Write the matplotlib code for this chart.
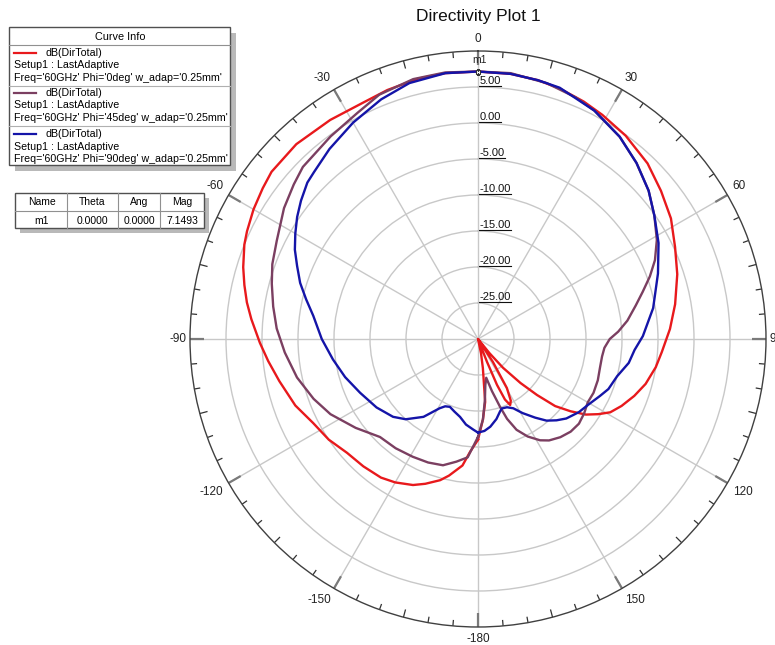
import numpy as np
import matplotlib
matplotlib.use("Agg")
import matplotlib.pyplot as plt
from matplotlib.patches import Rectangle
from matplotlib.lines import Line2D
from matplotlib.transforms import offset_copy

plt.rcParams["font.family"] = ["Liberation Sans", "DejaVu Sans"]

W, H = 775, 645

# ----------------------------------------------------------
# Data (theta in deg, directivity in dB)
# ----------------------------------------------------------
RED_THETA = [-180, -176, -173, -168, -165, -160, -156, -150, -145, -138,
             -131, -124, -117, -110, -102, -96, -91, -85, -81, -77,
             -73, -68, -65, -60, -55, -51, -43, -34, -26, -20,
             -13, -7, 0, 7, 13, 18, 24, 29, 36, 44,
             51, 58, 65, 72, 80, 87, 94, 99, 105, 110,
             115, 119, 122, 125, 128, 131, 133.5, 136, 139, 141,
             143, 145, 147, 149.5, 152, 154, 156, 157.5, 158.5, 160,
             162, 166, 168, 170.5, 173.5, 176.5, 180]
RED_DB = [-16.0, -14.3, -12.3, -10.6, -9.7, -8.6, -7.8, -7.0, -6.5, -6.2,
          -5.9, -5.0, -4.3, -3.0, -1.8, -0.7, 0.3, 1.6, 2.5, 3.3,
          4.1, 5.0, 5.4, 6.0, 6.5, 6.9, 7.0, 6.7, 6.5, 6.8,
          7.1, 7.2, 7.15, 7.1, 6.9, 6.6, 6.1, 5.6, 4.9, 3.9,
          2.7, 1.6, 0.2, -0.9, -2.2, -3.3, -4.4, -5.0, -5.9, -6.9,
          -8.0, -9.0, -10.3, -11.7, -13.7, -15.8, -18.7, -21.5, -24.7, -27.5,
          -30.0, -30.0, -26.2, -22.1, -20.3, -19.8, -20.8, -23.1, -26.6, -30.0,
          -30.0, -30.0, -28.0, -25.9, -21.2, -18.8, -16.0]

PURPLE_THETA = [-180, -175, -170, -164.5, -158, -151, -143, -135, -126, -117,
                -110, -102, -94, -87, -81, -75, -70, -64, -56, -50,
                -45.5, -36, -28, -22, -14, -7, 0, 7, 15, 22,
                27, 35, 42, 49, 55, 61, 66, 70, 74, 78,
                83, 87, 90, 94, 98, 103, 109, 115, 120, 125,
                130, 135, 140, 145, 148.5, 153, 157, 160, 162, 165,
                168, 171, 173.5, 176.5, 180]
PURPLE_DB = [-16.4, -13.5, -12.7, -11.8, -11.5, -11.3, -11.0, -10.75, -9.0, -7.0,
             -5.7, -4.3, -3.1, -2.0, -1.2, -0.35, 0.4, 1.1, 2.5, 3.4,
             4.1, 4.8, 5.6, 6.6, 7.2, 7.3, 7.15, 7.2, 6.8, 6.2,
             5.6, 4.3, 2.9, 1.4, -0.1, -1.6, -3.1, -4.6, -6.2, -7.6,
             -9.1, -10.5, -11.7, -12.4, -12.6, -12.6, -12.4, -12.3, -12.4, -12.0,
             -11.7, -11.8, -12.2, -12.8, -13.5, -14.8, -16.3, -18.2, -20.1, -22.5,
             -24.5, -23.5, -21.5, -18.8, -16.4]

BLUE_THETA = [-180, -177, -172, -167, -162, -157.5, -154, -151, -145, -138,
              -132.5, -124, -114.5, -106, -98, -90, -82, -77, -72.5, -68,
              -64, -60, -56, -52, -47.5, -44.5, -38, -30, -22, -15,
              -7, 0, 7, 13, 18, 27, 35, 42, 49, 55,
              62, 70, 80, 89, 94, 99, 105, 111, 115, 121,
              126, 132, 136, 140, 144, 149, 153, 157, 161, 163,
              167, 172, 176, 180]
BLUE_DB = [-17.0, -17.4, -18.0, -18.9, -19.4, -19.8, -19.6, -19.0, -16.8, -15.0,
           -14.0, -13.0, -12.0, -10.8, -9.65, -8.3, -6.9, -5.5, -4.1, -2.9,
           -1.7, -0.7, 0.3, 1.2, 2.15, 2.5, 3.5, 4.7, 5.9, 6.8,
           7.2, 7.15, 7.1, 6.9, 6.7, 5.6, 4.3, 2.9, 1.4, -0.1,
           -1.6, -3.4, -5.3, -7.1, -8.2, -8.8, -10.0, -10.6, -11.3, -12.2,
           -12.7, -13.5, -14.3, -15.2, -16.5, -18.0, -19.2, -19.7, -19.8, -19.5,
           -18.6, -17.7, -17.2, -17.0]

CURVE_COLORS = ["#e8191c", "#7b3f61", "#1414a8"]
PHI_VALUES = ["0deg", "45deg", "90deg"]
CURVE_NAME = "dB(DirTotal)"
SETUP_NAME = "Setup1 : LastAdaptive"

RING_VALUES = [5, 0, -5, -10, -15, -20, -25]
R_MIN, R_MAX = -30, 10
THETA_LABEL_ANGLES = [0, 30, 60, 90, 120, 150, 180, 210, 240, 270, 300, 330]
THETA_LABELS = ["0", "30", "60", "90", "120", "150",
                "-180", "-150", "-120", "-90", "-60", "-30"]

MARKER_NAME = "m1"
MARKER_THETA = 0.0
MARKER_MAG = 7.1493
TABLE_HEADER = ["Name", "Theta", "Ang", "Mag"]
TABLE_ROW = ["m1", "0.0000", "0.0000", "7.1493"]


# ----------------------------------------------------------
# helpers working in reference pixel coordinates
# ----------------------------------------------------------
def px_rect(fig, x0, y0, x1, y1, **kw):
    r = Rectangle((x0 / W, 1 - y1 / H), (x1 - x0) / W, (y1 - y0) / H,
                  transform=fig.transFigure, **kw)
    fig.add_artist(r)


def px_line(fig, x0, y0, x1, y1, **kw):
    fig.add_artist(Line2D([x0 / W, x1 / W], [1 - y0 / H, 1 - y1 / H],
                          transform=fig.transFigure, **kw))


def px_text(fig, x, y, s, **kw):
    return fig.text(x / W, 1 - y / H, s, **kw)


fig = plt.figure(figsize=(W / 100, H / 100), dpi=100)
fig.patch.set_facecolor("white")

# polar axes: center (478, 339), radius 288 px
cx, cy, R = 478, 339, 288
px_per_db = R / (R_MAX - R_MIN)
ax = fig.add_axes([(cx - R) / W, 1 - (cy + R) / H, 2 * R / W, 2 * R / H],
                  projection="polar")
ax.set_theta_zero_location("N")
ax.set_theta_direction(-1)
ax.set_ylim(R_MIN, R_MAX)

ax.set_yticks(RING_VALUES)
ax.set_yticklabels([])
ax.set_xticks(np.deg2rad(THETA_LABEL_ANGLES))
ax.set_xticklabels([])
ax.tick_params(axis="x", which="major", length=0)
ax.grid(True, color="#c8c8c8", linewidth=1.0)
ax.spines["polar"].set_color("#404040")
ax.spines["polar"].set_linewidth(1.0)

# inward tick marks on the outer circle, every 5 degrees
for ang in range(0, 360, 5):
    if ang % 30 == 0:
        L, col, lw = 14, "#7a7a7a", 1.6
    elif ang % 15 == 0:
        L, col, lw = 8, "#333333", 0.9
    else:
        L, col, lw = 6, "#333333", 0.9
    a = np.deg2rad(ang)
    ax.plot([a, a], [R_MAX, R_MAX - L / px_per_db], color=col,
            linewidth=lw, solid_capstyle="butt", zorder=2, clip_on=False)

# angle labels just outside the circle
for ang, lab in zip(THETA_LABEL_ANGLES, THETA_LABELS):
    a = np.deg2rad(ang)
    s, c = np.sin(a), np.cos(a)
    d = 4.0 if abs(s) > 0.99 else 6.0
    ha = "left" if s > 0.1 else ("right" if s < -0.1 else "center")
    va = "bottom" if c > 0.1 else ("top" if c < -0.1 else "center")
    tr = offset_copy(ax.transData, fig=fig, x=d * s, y=d * c, units="dots")
    ax.text(a, R_MAX, lab, ha=ha, va=va, fontsize=8.5, color="#222222",
            transform=tr, clip_on=False)

curves = [(RED_THETA, RED_DB), (PURPLE_THETA, PURPLE_DB), (BLUE_THETA, BLUE_DB)]
for (th, db), color in zip(curves, CURVE_COLORS):
    ax.plot(np.deg2rad(th), db, color=color, linewidth=1.7, zorder=3)

# marker m1
ax.plot([np.deg2rad(MARKER_THETA)], [MARKER_MAG], marker="s", ms=3.5,
        mfc="white", mec="#333333", mew=0.8, zorder=5)
ax.annotate(MARKER_NAME, xy=(np.deg2rad(MARKER_THETA), MARKER_MAG),
            xytext=(1, 5), textcoords="offset points", fontsize=7.5,
            ha="center", va="bottom", color="#222222")

# radial labels, underlined
radial_texts = []
shift = offset_copy(ax.transData, fig=fig, x=1.5, y=0.5, units="dots")
for v in RING_VALUES:
    t = ax.text(0, v, f"{v:.2f}", ha="left", va="bottom", fontsize=8,
                transform=shift, color="#111111", zorder=4)
    radial_texts.append(t)

# title
px_text(fig, 478, 16, "Directivity Plot 1", ha="center", va="center",
        fontsize=12.5, color="#111111")

# Curve Info legend
px_rect(fig, 15, 33, 236, 171, facecolor="#b9b9b9", edgecolor="none")
px_rect(fig, 9, 27, 230, 165, facecolor="white", edgecolor="#505050",
        linewidth=1.0)
px_text(fig, 120, 37, "Curve Info", ha="center", va="center", fontsize=7.8)
px_line(fig, 9, 45, 230, 45, color="#909090", linewidth=0.8)
entry_tops = [53, 93, 134]
for i, (color, phi) in enumerate(zip(CURVE_COLORS, PHI_VALUES)):
    y0 = entry_tops[i]
    px_line(fig, 14, y0, 36, y0, color=color, linewidth=1.6)
    px_text(fig, 45, y0, CURVE_NAME, ha="left", va="center", fontsize=7.7)
    px_text(fig, 14, y0 + 12.5, SETUP_NAME, ha="left", va="center",
            fontsize=7.7)
    px_text(fig, 14, y0 + 25, f"Freq='60GHz' Phi='{phi}' w_adap='0.25mm'",
            ha="left", va="center", fontsize=7.7)
    if i < 2:
        px_line(fig, 9, y0 + 32.5, 230, y0 + 32.5, color="#b0b0b0",
                linewidth=0.8)

# marker table
px_rect(fig, 20, 198, 209, 233, facecolor="#b9b9b9", edgecolor="none")
px_rect(fig, 15, 193, 204, 228, facecolor="white", edgecolor="#505050",
        linewidth=1.0)
px_line(fig, 15, 211, 204, 211, color="#909090", linewidth=0.8)
for xs in [67, 118, 160]:
    px_line(fig, xs, 193, xs, 228, color="#909090", linewidth=0.8)
col_centers = [42, 92, 139, 182]
for xc, head, val in zip(col_centers, TABLE_HEADER, TABLE_ROW):
    px_text(fig, xc, 202, head, ha="center", va="center", fontsize=7.5)
    px_text(fig, xc, 220.5, val, ha="center", va="center", fontsize=7.5)

# underline the radial labels
fig.canvas.draw()
renderer = fig.canvas.get_renderer()
for t in radial_texts:
    bb = t.get_window_extent(renderer)
    y = bb.y0 + 1.0
    fig.add_artist(Line2D([bb.x0 / W, bb.x1 / W], [y / H, y / H],
                          transform=fig.transFigure, color="#111111",
                          linewidth=0.8))

fig.savefig("out.png", dpi=100)
